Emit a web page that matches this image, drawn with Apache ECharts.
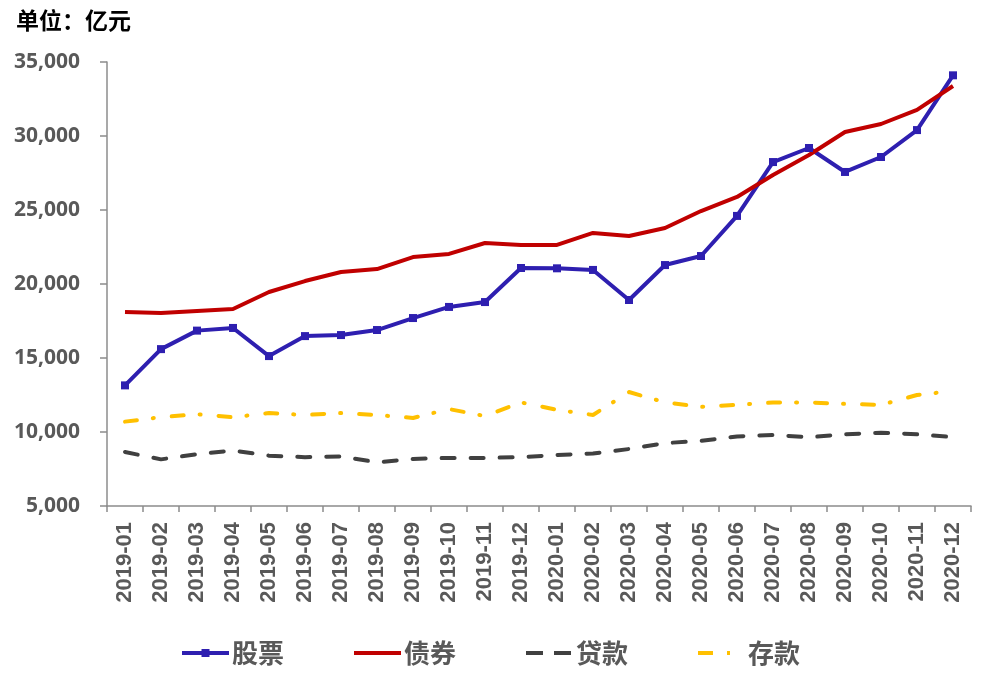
<!DOCTYPE html>
<html><head><meta charset="utf-8">
<script src="https://cdn.jsdelivr.net/npm/echarts@6/dist/echarts.min.js"></script>
<style>html,body{margin:0;padding:0;background:#fff}#c{width:1000px;height:688px}</style>
</head><body><div id="c"></div>
<script>
const categories = ['2019-01','2019-02','2019-03','2019-04','2019-05','2019-06','2019-07','2019-08','2019-09','2019-10','2019-11','2019-12',
  '2020-01','2020-02','2020-03','2020-04','2020-05','2020-06','2020-07','2020-08','2020-09','2020-10','2020-11','2020-12'];
const stocks = [13150,15600,16850,17030,15130,16480,16550,16890,17700,18450,18780,21080,21060,20950,18920,21280,21890,24600,28240,29190,27570,28580,30400,34100];
const bonds = [18110,18040,18180,18310,19460,20200,20810,21010,21820,22030,22770,22640,22640,23450,23240,23780,24930,25880,27370,28720,30270,30810,31760,33380];
const loans = [8650,8150,8500,8750,8400,8300,8350,7950,8180,8250,8250,8300,8450,8550,8850,9250,9400,9700,9800,9650,9850,9950,9850,9650];
const deposits = [10700,11000,11200,11000,11280,11150,11280,11150,10950,11550,11080,12000,11500,11150,12700,12000,11700,11830,12000,12000,11900,11830,12500,12770];
const seriesNames = ['股票','债券','贷款','存款'];
const yTicks = {min:5000, max:35000, interval:5000};

const chart = echarts.init(document.getElementById('c'));
const numFont = '"Open Sans","Noto Sans CJK SC",sans-serif';
const xFont = '"Liberation Sans",Arial,sans-serif';
const cjkFont = '"Noto Sans CJK SC","Open Sans",sans-serif';
chart.setOption({
  animation:false,
  title:{text:'单位：亿元',left:11,top:4,textStyle:{fontFamily:cjkFont,fontSize:23,fontWeight:'bold',color:'#000'}},
  grid:{left:107,right:29,top:62,bottom:182},
  legend:{bottom:17,left:175,itemGap:68,itemWidth:47,itemHeight:10,
    textStyle:{fontFamily:cjkFont,fontSize:26,fontWeight:'bold',color:'#595959',padding:[0,0,0,-2]},
    data:[{name:seriesNames[0],lineStyle:{width:4}},
      {name:seriesNames[1],itemStyle:{opacity:0},lineStyle:{width:4}},
      {name:seriesNames[2],itemStyle:{opacity:0},lineStyle:{width:4,type:[17,11],cap:'butt'}},
      {name:seriesNames[3],itemStyle:{opacity:0},lineStyle:{width:4,type:[15,14,3,40],cap:'butt'}}]},
  xAxis:{type:'category',data:categories,boundaryGap:true,
    axisLine:{lineStyle:{color:'#8c8c8c',width:1.5}},
    axisTick:{show:true,alignWithLabel:false,length:6,lineStyle:{color:'#8c8c8c',width:1.5}},
    axisLabel:{rotate:90,interval:0,margin:16,fontFamily:xFont,fontSize:22,fontWeight:'bold',color:'#595959'}},
  yAxis:{type:'value',min:yTicks.min,max:yTicks.max,interval:yTicks.interval,
    axisLine:{show:true,lineStyle:{color:'#8c8c8c',width:1.5}},
    axisTick:{show:true,length:7,inside:false,lineStyle:{color:'#8c8c8c',width:1.5}},
    splitLine:{show:false},
    axisLabel:{margin:27,fontFamily:numFont,fontSize:21,fontWeight:'bold',color:'#595959',
      formatter:v=>v.toLocaleString('en-US')}},
  series:[
    {name:seriesNames[0],type:'line',data:stocks,symbol:'rect',symbolSize:8,showSymbol:true,
      itemStyle:{color:'#2e1fb0'},lineStyle:{color:'#2e1fb0',width:4}},
    {name:seriesNames[1],type:'line',data:bonds,symbol:'none',
      itemStyle:{color:'#c00000'},lineStyle:{color:'#c00000',width:4}},
    {name:seriesNames[2],type:'line',data:loans,symbol:'none',
      itemStyle:{color:'#404040'},lineStyle:{color:'#404040',width:4,type:[13,16],cap:'round'}},
    {name:seriesNames[3],type:'line',data:deposits,symbol:'none',
      itemStyle:{color:'#ffc000'},lineStyle:{color:'#ffc000',width:4,type:[12,16,1,18],cap:'round'}}
  ]
});
</script></body></html>
